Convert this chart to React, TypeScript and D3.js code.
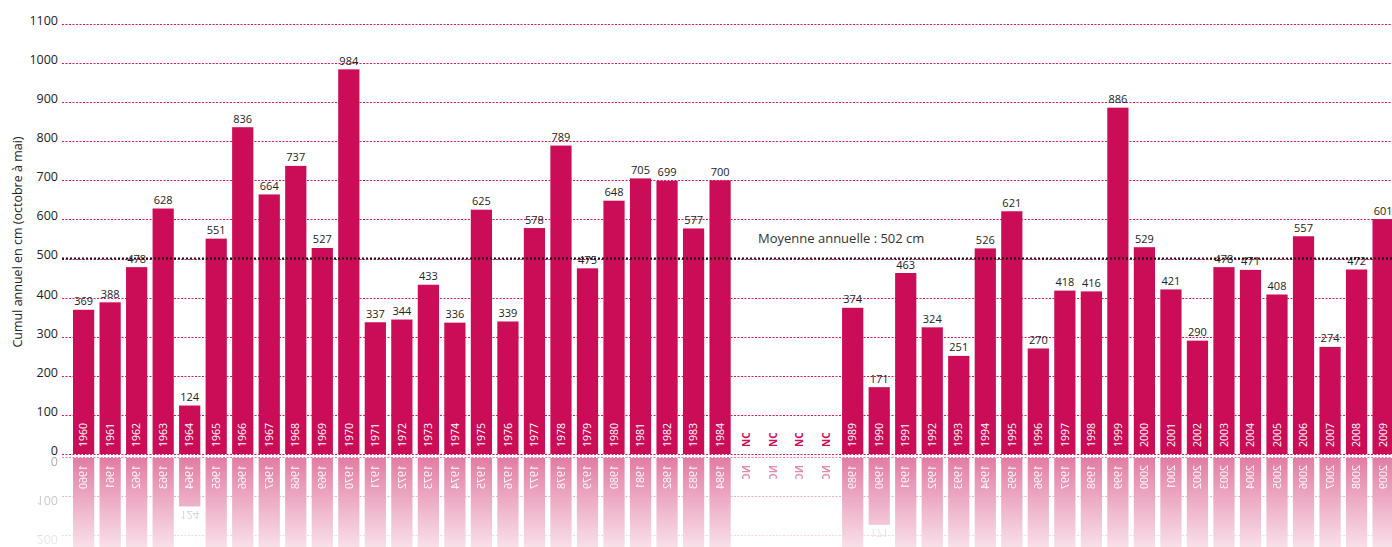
import React from 'react';
import * as d3 from 'd3';

// Cumul annuel de neige (cm), octobre à mai ; null = non communiqué (NC)
const years = d3.range(1960, 2010);
const snowfall = [
  369, 388, 478, 628, 124, 551, 836, 664, 737, 527,
  984, 337, 344, 433, 336, 625, 339, 578, 789, 475,
  648, 705, 699, 577, 700, null, null, null, null, 374,
  171, 463, 324, 251, 526, 621, 270, 418, 416, 886,
  529, 421, 290, 478, 471, 408, 557, 274, 472, 601,
];
const yTicks = d3.range(0, 1200, 100);
const meanValue = 502;
const meanLabel = 'Moyenne annuelle : 502 cm';
const yTitle = 'Cumul annuel en cm (octobre à mai)';

const W = 1392;
const H = 547;
const barColor = '#cb0d57';
const gridColor = '#e8175d';
const font = "'Open Sans', sans-serif";

const x = d3.scaleBand<number>()
  .domain(years)
  .range([70.35, 1396.35])
  .paddingInner(0.2)
  .paddingOuter(0.1);
const y = d3.scaleLinear().domain([0, 1100]).range([454, 24]);
const crisp = (v: number) => Math.round(v) + 0.5;

const Chart = ({ mirror }: { mirror?: boolean }) => {
  const bw = x.bandwidth();
  return (
    <g>
      {yTicks.map(t => (
        <g key={t}>
          <line x1={62} x2={W} y1={crisp(y(t))} y2={crisp(y(t))} stroke={gridColor}
            strokeWidth={1} strokeDasharray="2 1.5" />
          <text x={58} y={y(t) - 3.5} dy="0.35em" textAnchor="end" fontSize={12.5}
            fill={mirror ? '#666' : '#222'} fontFamily={font}>{t}</text>
        </g>
      ))}
      {years.map((yr, i) => {
        const v = snowfall[i];
        const cx = (x(yr) as number) + bw / 2;
        if (v == null) {
          return (
            <text key={yr} transform={`translate(${cx + 3.5},447) rotate(-90)`}
              fontSize={10} fontWeight="bold" fill={barColor} fontFamily={font}>NC</text>
          );
        }
        return (
          <g key={yr}>
            <rect x={x(yr)} y={y(v)} width={bw} height={y(0) - y(v)} fill={barColor} />
            <text transform={`translate(${cx + 3.7},447) rotate(-90)`}
              fontSize={10.5} fill="#fff" fontFamily={font}>{yr}</text>
            <text x={cx} y={y(v) - 4.5} textAnchor="middle" fontSize={11}
              fill={mirror ? '#666' : '#222'} fontFamily={font}>{v}</text>
          </g>
        );
      })}
    </g>
  );
};

export default function App() {
  return (
    <svg width={W} height={H} style={{ position: 'absolute', left: 0, top: 0 }}>
      <defs>
        <linearGradient id="fade" gradientUnits="userSpaceOnUse" x1={0} y1={456} x2={0} y2={H}>
          <stop offset="0" stopColor="#fff" stopOpacity={0.55} />
          <stop offset="1" stopColor="#fff" stopOpacity={0.13} />
        </linearGradient>
        <mask id="reflMask" maskUnits="userSpaceOnUse" x={0} y={0} width={W} height={H}>
          <rect x={0} y={456} width={W} height={H - 456} fill="url(#fade)" />
        </mask>
      </defs>
      <rect width={W} height={H} fill="#fff" />
      <g mask="url(#reflMask)">
        <g transform="translate(0,912) scale(1,-1)">
          <Chart mirror />
        </g>
      </g>
      <rect x={0} y={455} width={W} height={2} fill="#fff" />
      <Chart />
      <line x1={62} x2={W} y1={crisp(y(meanValue))} y2={crisp(y(meanValue))} stroke="#111"
        strokeWidth={2} strokeDasharray="2 2" />
      <text x={758} y={y(meanValue) - 15} fontSize={13} fill="#333" fontFamily={font}>{meanLabel}</text>
      <text transform="translate(22,242) rotate(-90)" textAnchor="middle" fontSize={12.5}
        fill="#222" fontFamily={font}>{yTitle}</text>
    </svg>
  );
}
